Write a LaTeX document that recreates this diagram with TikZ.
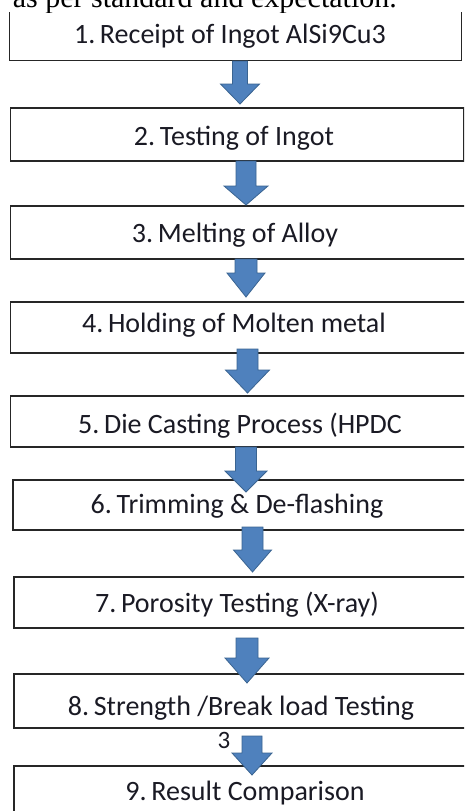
\documentclass[tikz,border=0pt]{standalone}
\usepackage{fontspec}
\setmainfont{Carlito}
\newfontfamily\leadserif{Liberation Serif}
\definecolor{arrowfill}{HTML}{4F81BD}
\definecolor{arrowedge}{HTML}{3A6491}
\definecolor{boxline}{HTML}{262626}
\definecolor{labeltext}{HTML}{1A1A24}

% block arrow pointing down: centre x, top y, head start y, tip y, shaft half width, head half width
\newcommand\flowdown[6]{%
  \draw[flowarrow] ({#1-#5},#2) -- ({#1+#5},#2) -- ({#1+#5},#3) -- ({#1+#6},#3)
    -- (#1,#4) -- ({#1-#6},#3) -- ({#1-#5},#3) -- cycle;}

\begin{document}
\begin{tikzpicture}[x=1pt,y=-1pt,
  stepbox/.style={draw=boxline, line width=1.5pt, fill=white, rectangle,
    inner sep=0pt, anchor=north west},
  steptext/.style={anchor=base, inner sep=0pt, text=labeltext,
    font=\fontsize{28}{33}\selectfont},
  flowarrow/.style={fill=arrowfill, draw=arrowedge, line width=0.8pt, line join=miter}]

\useasboundingbox (0,0) rectangle (464,811);
\clip (0,0) rectangle (464,811);
\fill[white] (0,0) rectangle (464,811);

% closing line of the preceding paragraph
\node[anchor=base east, inner sep=0pt, font=\leadserif\fontsize{30}{36}\selectfont]
  (lead) at (397,7.5) {as per standard and expectation.};

% process steps
\node[stepbox, draw=none, minimum width=450.5pt, minimum height=47pt] (b1) at (9.5,12) {};
\draw[boxline, line width=1.5pt] (b1.north west) -- (b1.south west) -- (b1.south east) -- (b1.north east);
\node[stepbox, minimum width=453.5pt, minimum height=53pt] (b2) at (9.5,107) {};
\node[stepbox, minimum width=470pt, minimum height=53pt] (b3) at (9.5,205) {};
\node[stepbox, minimum width=470pt, minimum height=51pt] (b4) at (9.5,301) {};
\node[stepbox, minimum width=470pt, minimum height=51pt] (b5) at (9.5,395) {};
\node[stepbox, minimum width=470pt, minimum height=50pt] (b6) at (12,479) {};
\node[stepbox, minimum width=470pt, minimum height=51pt] (b7) at (13,576) {};
\node[stepbox, minimum width=470pt, minimum height=54pt] (b8) at (13,673) {};
\node[stepbox, minimum width=470pt, minimum height=60pt] (b9) at (13,765) {};

\node[steptext] (t1) at (230,43) {1.\,Receipt of Ingot AlSi9Cu3};
\node[steptext] (t2) at (234,145) {2.\,Testing of Ingot};
\node[steptext] (t3) at (235,242) {3.\,Melting of Alloy};
\node[steptext] (t4) at (234,332) {4.\,Holding of Molten metal};
\node[steptext] (t5) at (240,433) {5.\,Die Casting Process (HPDC};
\node[steptext] (t6) at (237,513) {6.\,Trimming \& De-flashing};
\node[steptext] (t7) at (237,612) {7.\,Porosity Testing (X-ray)};
\node[steptext] (t8) at (241,715) {8.\,Strength /Break load Testing};
\node[steptext] (t9) at (245,800) {9.\,Result Comparison};

\node[steptext, font=\fontsize{25}{30}\selectfont] (pg) at (224,748) {3};

% arrows between the steps
\flowdown{240}{61}{84}{104}{7.5}{19.5}
\flowdown{246}{161}{186}{205}{10}{22}
\flowdown{246}{259}{273}{297}{11}{19}
\flowdown{247.5}{349}{370}{393}{10.5}{22}
\flowdown{246}{447}{471}{492}{10.5}{21}
\flowdown{252.5}{527}{550}{572}{10.5}{19}
\flowdown{247}{638}{658}{683}{11}{22}
\flowdown{252}{736}{753}{775}{10}{20}
\end{tikzpicture}
\end{document}
